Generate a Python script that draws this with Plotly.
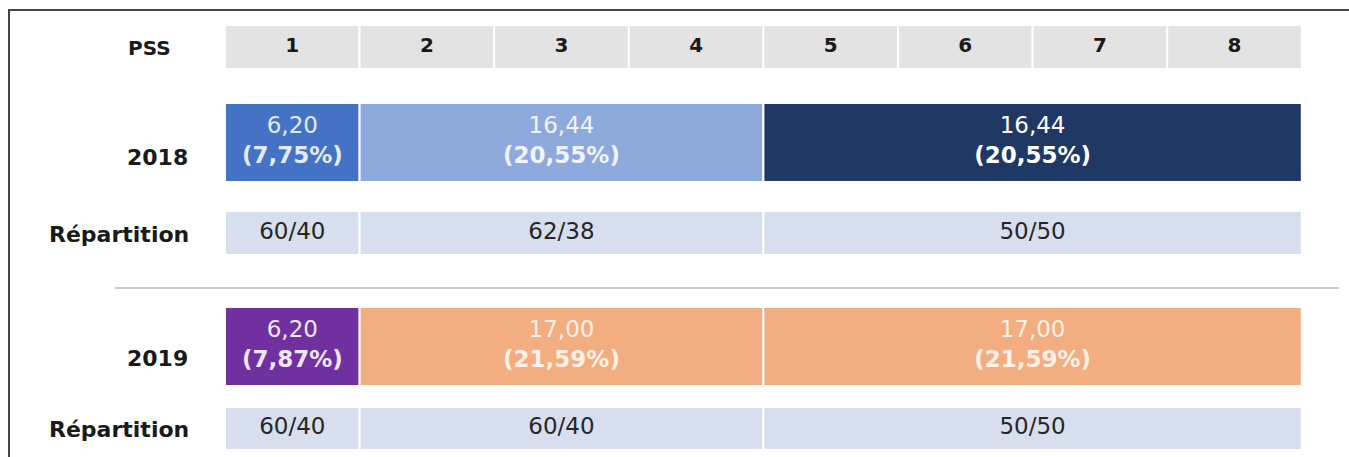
import plotly.graph_objects as go

# ---------------- data ----------------
pss_columns = ["1", "2", "3", "4", "5", "6", "7", "8"]
row_labels = ["PSS", "2018", "Répartition", "2019", "Répartition"]

# PSS column spans of the three segments (first and last column)
seg_first_col = [1, 2, 5]
seg_last_col = [1, 4, 8]

values_2018 = ["6,20", "16,44", "16,44"]
shares_2018 = ["7,75%", "20,55%", "20,55%"]
repartition_2018 = ["60/40", "62/38", "50/50"]

values_2019 = ["6,20", "17,00", "17,00"]
shares_2019 = ["7,87%", "21,59%", "21,59%"]
repartition_2019 = ["60/40", "60/40", "50/50"]

# ---------------- styles / layout ----------------
W, H = 1349, 457
COL0_PX, COL_PX = 225.0, 134.6           # left edge of PSS 1, width of one PSS column
X_RANGE = [-COL0_PX / COL_PX, (W - COL0_PX) / COL_PX]

ROW_Y = {"head": 47, "y2018": 142.5, "rep2018": 233, "y2019": 346.5, "rep2019": 428.5}
ROW_T = {"head": 44, "y2018": 79, "rep2018": 44, "y2019": 79, "rep2019": 43}
LABEL_Y = [48, 157, 234, 358, 429]
LABEL_RIGHT_PX = [173, 190, 191, 190, 191]

HEAD_FILL = "#E3E3E3"
REP_FILL = "#D7DFEF"
colors_2018 = ["#4472C4", "#8EA9DB", "#1F3864"]
colors_2019 = ["#7030A0", "#F2AD80", "#F2AD80"]
txt_2018 = ["#E4EAF6", "#F1F4FB", "#FFFFFF"]
txt_2019 = ["#EFE6F6", "#FDF1E8", "#FDF1E8"]

FONT = "DejaVu Sans"

fig = go.Figure()


def seg_geometry():
    base = [f - 1 for f in seg_first_col]
    width = [l - f + 1 for f, l in zip(seg_first_col, seg_last_col)]
    centers = [b + w / 2 for b, w in zip(base, width)]
    return base, width, centers


def add_row(key, base, width, fills):
    fig.add_trace(go.Bar(
        orientation="h",
        y=[ROW_Y[key]] * len(base),
        x=width,
        base=base,
        width=[ROW_T[key]] * len(base),
        marker=dict(color=fills, line=dict(color="white", width=2)),
        hoverinfo="skip",
        showlegend=False,
    ))


def add_text(key, xs, texts, colors, size, y=None):
    fig.add_trace(go.Scatter(
        x=xs,
        y=[ROW_Y[key] if y is None else y] * len(xs),
        mode="text",
        text=texts,
        textposition="middle center",
        textfont=dict(family=FONT, size=size, color=colors),
        hoverinfo="skip",
        showlegend=False,
    ))


# header row
head_base = [int(c) - 1 for c in pss_columns]
add_row("head", head_base, [1] * len(pss_columns), [HEAD_FILL] * len(pss_columns))
add_text("head", [b + 0.5 for b in head_base], [f"<b>{c}</b>" for c in pss_columns],
         ["#1A1A1A"] * len(pss_columns), 20)

base, width, centers = seg_geometry()

# 2018
add_row("y2018", base, width, colors_2018)
add_text("y2018", centers,
         [f"{v}<br><b>({s})</b>" for v, s in zip(values_2018, shares_2018)],
         txt_2018, 23)
add_row("rep2018", base, width, [REP_FILL] * 3)
add_text("rep2018", centers, repartition_2018, ["#262626"] * 3, 23)

# 2019
add_row("y2019", base, width, colors_2019)
add_text("y2019", centers,
         [f"{v}<br><b>({s})</b>" for v, s in zip(values_2019, shares_2019)],
         txt_2019, 23)
add_row("rep2019", base, width, [REP_FILL] * 3)
add_text("rep2019", centers, repartition_2019, ["#262626"] * 3, 23)

# row labels
annotations = []
for lab, ly, rpx in zip(row_labels, LABEL_Y, LABEL_RIGHT_PX):
    annotations.append(dict(
        x=(rpx - COL0_PX) / COL_PX, y=ly, xref="x", yref="y",
        text=f"<b>{lab}</b>", showarrow=False, xanchor="right", yanchor="middle",
        font=dict(family=FONT, size=20 if lab == "PSS" else 22, color="#1A1A1A"),
    ))

shapes = [
    # frame (top and left)
    dict(type="line", xref="paper", yref="y", x0=8 / W, x1=1, y0=10, y1=10,
         line=dict(color="#444444", width=2)),
    dict(type="line", xref="paper", yref="y", x0=9 / W, x1=9 / W, y0=10, y1=H,
         line=dict(color="#444444", width=2)),
    # separator between years
    dict(type="line", xref="paper", yref="y", x0=115 / W, x1=1339 / W, y0=288, y1=288,
         line=dict(color="#BDBDBD", width=1.5)),
]

fig.update_layout(
    width=W, height=H,
    margin=dict(l=0, r=0, t=0, b=0),
    paper_bgcolor="white", plot_bgcolor="white",
    barmode="overlay",
    xaxis=dict(range=X_RANGE, visible=False, showgrid=False, zeroline=False, fixedrange=True),
    yaxis=dict(range=[H, 0], visible=False, showgrid=False, zeroline=False, fixedrange=True),
    annotations=annotations,
    shapes=shapes,
    showlegend=False,
)

fig.write_html(
    "out.html",
    config={"displayModeBar": False},
    post_script="document.body.style.margin='0';document.body.style.padding='0';"
                "document.body.style.overflow='hidden';",
)
